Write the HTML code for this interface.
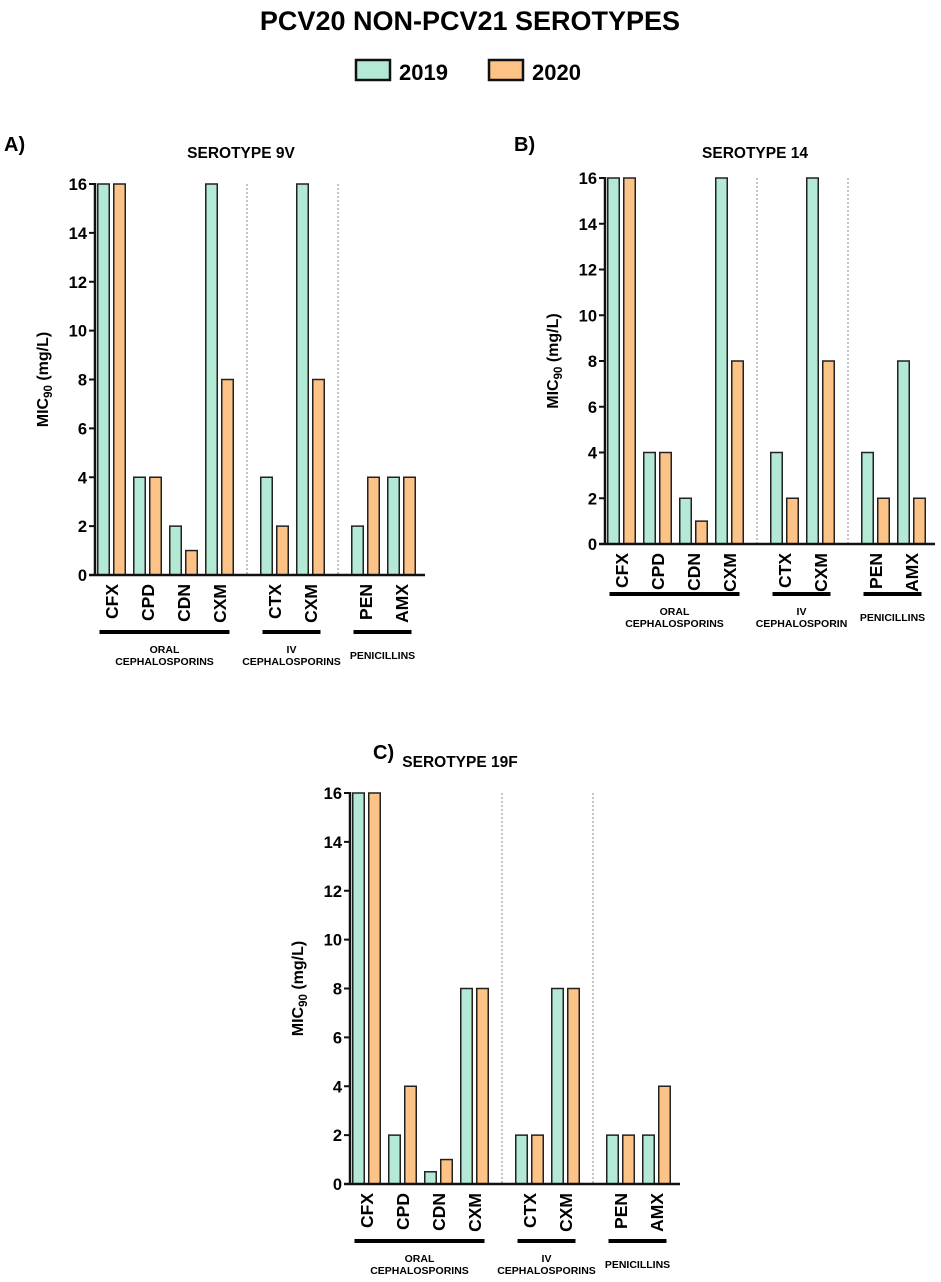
<!DOCTYPE html>
<html><head><meta charset="utf-8"><style>
body{margin:0;background:#fff;width:941px;height:1277px;overflow:hidden;font-family:"Liberation Sans",Arial,sans-serif}
</style></head><body>
<svg id="s" width="941" height="1277" xmlns="http://www.w3.org/2000/svg" font-family="Liberation Sans, Arial, sans-serif" font-weight="bold">
<text x="470" y="30" font-size="27" text-anchor="middle">PCV20 NON-PCV21 SEROTYPES</text>
<g>
<rect x="356" y="60" width="34" height="20" fill="#b3ead6" stroke="#111" stroke-width="2.5"/>
<text x="399" y="80" font-size="22">2019</text>
<rect x="489" y="60" width="34" height="20" fill="#fdc285" stroke="#111" stroke-width="2.5"/>
<text x="532" y="80" font-size="22">2020</text>
</g>
</svg>
<script>
const categories = ["CFX","CPD","CDN","CXM","CTX","CXM","PEN","AMX"];
const groupOfCat = [0,0,0,0,1,1,2,2];
const valuesA2019 = [16,4,2,16,4,16,2,4];
const valuesA2020 = [16,4,1,8,2,8,4,4];
const valuesB2019 = [16,4,2,16,4,16,4,8];
const valuesB2020 = [16,4,1,8,2,8,2,2];
const valuesC2019 = [16,2,0.5,8,2,8,2,2];
const valuesC2020 = [16,4,1,8,2,8,2,4];
const yTicks = [0,2,4,6,8,10,12,14,16];
const groupLabelsA = [["ORAL","CEPHALOSPORINS"],["IV","CEPHALOSPORINS"],["PENICILLINS"]];
const groupLabelsB = [["ORAL","CEPHALOSPORINS"],["IV","CEPHALOSPORIN"],["PENICILLINS"]];
const groupLabelsC = [["ORAL","CEPHALOSPORINS"],["IV","CEPHALOSPORINS"],["PENICILLINS"]];
const yMax = 16;

const NS="http://www.w3.org/2000/svg";
const svg=document.getElementById('s');
function mk(tag,attrs,parent){const e=document.createElementNS(NS,tag);for(const k in attrs)e.setAttribute(k,attrs[k]);(parent||svg).appendChild(e);return e;}

function panel(p){
  const g=mk('g',{});
  
  
  const ys=v=>p.yBot-(v/yMax)*(p.yBot-p.yTop);
  const cx=i=>p.x0+16.5+i*36+groupOfCat[i]*19;
  const t1=mk('text',{x:p.lx,y:p.ly,'font-size':20},g); t1.textContent=p.id.toUpperCase()+')';
  
  
  const t2=mk('text',{x:p.tx,y:p.ty,'font-size':15.5,'text-anchor':'middle'},g); t2.textContent=p.title;
  
  
  const yt=mk('text',{transform:`translate(${p.x0-47},${(p.yTop+p.yBot)/2}) rotate(-90)`,'font-size':16,'text-anchor':'middle'},g);
  yt.innerHTML='MIC<tspan font-size="11.5" dy="4">90</tspan><tspan dy="-4"> (mg/L)</tspan>';
  
  
  [3,5].forEach(i=>{const x=(cx(i)+cx(i+1))/2;const d=mk('line',{x1:x,x2:x,y1:p.yTop,y2:p.yBot,stroke:'#888','stroke-width':1,'stroke-dasharray':'2,2'},g);
    
    });
  categories.forEach((c,i)=>{
    [[p.v19[i],'#b3ead6',-8,'2019'],[p.v20[i],'#fdc285',8,'2020']].forEach(([v,col,off,yr])=>{
      const y=ys(v);
      const r=mk('rect',{x:cx(i)+off-5.75,y:y,width:11.5,height:p.yBot-y,fill:col,stroke:'#222','stroke-width':1.5},g);
      
      
    });
    const lt=mk('text',{transform:`translate(${cx(i)+6.5},${p.yBot+9}) rotate(-90)`,'font-size':17.5,'text-anchor':'end'},g);
    lt.textContent=c;
    
    
  });
  const ya=mk('line',{x1:p.x0,x2:p.x0,y1:p.yTop-1,y2:p.yBot,stroke:'#111','stroke-width':2.5},g);
  
  
  const xa=mk('line',{x1:p.x0-6,x2:p.x1,y1:p.yBot,y2:p.yBot,stroke:'#111','stroke-width':2.5},g);
  
  
  yTicks.forEach(v=>{
    mk('line',{x1:p.x0-6,x2:p.x0,y1:ys(v),y2:ys(v),stroke:'#111','stroke-width':2},g);
    const tl=mk('text',{x:p.x0-8,y:ys(v)+6,'font-size':16.5,'text-anchor':'end'},g);
    tl.textContent=v;
    
    
  });
  [[0,3],[4,5],[6,7]].forEach(([a,b],gi)=>{
    const x1=cx(a)-12,x2=cx(b)+10,uy=p.yBot+p.ud;
    const u=mk('line',{x1:x1,x2:x2,y1:uy,y2:uy,stroke:'#000','stroke-width':4},g);
    
    
    const lines=p.gl[gi];
    lines.forEach((s,k)=>{
      const yy=lines.length==1?uy+27:uy+21+k*12;
      const gt=mk('text',{x:(x1+x2)/2,y:yy,'font-size':10.5,'text-anchor':'middle'},g);
      gt.textContent=s;
      
      
    });
  });
}
panel({id:'a',title:'SEROTYPE 9V',x0:95,x1:425,yTop:184,yBot:575,ud:57,lx:4,ly:151,tx:241,ty:158,v19:valuesA2019,v20:valuesA2020,gl:groupLabelsA});
panel({id:'b',title:'SEROTYPE 14',x0:605,x1:935,yTop:178,yBot:544,ud:50,lx:514,ly:151,tx:755,ty:158,v19:valuesB2019,v20:valuesB2020,gl:groupLabelsB});
panel({id:'c',title:'SEROTYPE 19F',x0:350,x1:680,yTop:793,yBot:1184,ud:57,lx:373,ly:759,tx:460,ty:767,v19:valuesC2019,v20:valuesC2020,gl:groupLabelsC});
</script>
</body></html>
